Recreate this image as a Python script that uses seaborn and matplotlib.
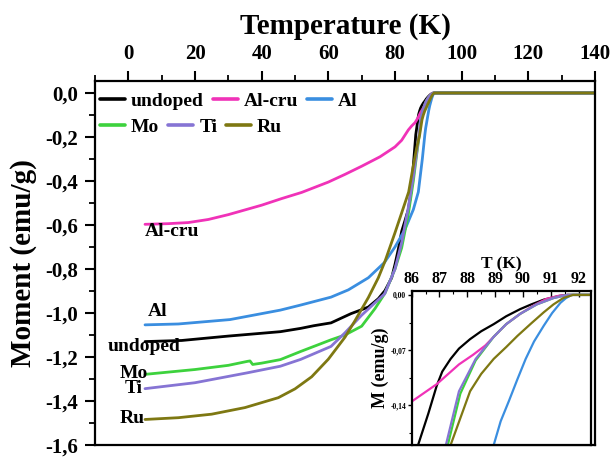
import numpy as np
import pandas as pd
import matplotlib
matplotlib.use("Agg")
import matplotlib.pyplot as plt
from matplotlib.lines import Line2D
from matplotlib.ticker import FixedLocator, FixedFormatter, MultipleLocator
import seaborn as sns

sns.set_theme(style="ticks")
plt.rcParams['font.family'] = ['Liberation Serif', 'DejaVu Serif']
plt.rcParams['font.weight'] = 'bold'
plt.rcParams['axes.labelweight'] = 'bold'
for k in ['text.color', 'axes.labelcolor', 'xtick.color', 'ytick.color', 'axes.edgecolor']:
    plt.rcParams[k] = 'black'

# ---------------- data ----------------
samples = ["undoped", "Al-cru", "Al", "Mo", "Ti", "Ru"]
colors = ["#000000", "#F032B8", "#3A8EE0", "#3DD23D", "#8674D4", "#7E7812"]

T_undoped = [5, 16, 30, 45.6, 51.7, 55.6, 60.8, 66.8, 70, 72, 75, 77, 79, 80, 81, 82, 83, 84,
             84.8, 85.5, 86, 86.23, 86.6, 86.9, 87.1, 87.4, 87.7, 88.1, 88.5, 88.95, 89.4,
             89.9, 90.3, 90.75, 91.1, 91.35, 91.6, 100, 120, 140]
M_undoped = [-1.130, -1.125, -1.105, -1.085, -1.070, -1.058, -1.045, -1.003, -0.985, -0.973,
             -0.935, -0.898, -0.840, -0.779, -0.710, -0.629, -0.580, -0.530, -0.450, -0.330,
             -0.235, -0.190, -0.150, -0.115, -0.097, -0.081, -0.068, -0.056, -0.046, -0.037,
             -0.027, -0.018, -0.012, -0.006, -0.003, -0.001, 0.0, 0.0, 0.0, 0.0]

T_alcru = [5, 12, 18, 24, 30, 40, 46, 52, 60, 65, 70, 75.5, 78, 80, 82, 84, 85, 86, 86.9, 87.7,
           88.2, 88.65, 88.95, 89.4, 89.9, 90.4, 90.85, 91.3, 91.6, 100, 120, 140]
M_alcru = [-0.597, -0.594, -0.589, -0.575, -0.553, -0.510, -0.480, -0.452, -0.405, -0.370,
           -0.333, -0.290, -0.265, -0.245, -0.215, -0.168, -0.150, -0.135, -0.113, -0.088,
           -0.076, -0.064, -0.053, -0.037, -0.024, -0.013, -0.005, -0.001, 0.0, 0.0, 0.0, 0.0]

T_al = [5, 15, 30.5, 45.6, 51.7, 60.8, 66, 72, 76.8, 80, 83, 85.5, 87, 88.2, 88.95, 89.2,
        89.5, 89.8, 90.1, 90.4, 90.75, 91.05, 91.35, 91.55, 91.75, 100, 120, 140]
M_al = [-1.054, -1.050, -1.030, -0.987, -0.964, -0.928, -0.895, -0.840, -0.771, -0.700,
        -0.620, -0.530, -0.450, -0.300, -0.190, -0.160, -0.134, -0.107, -0.081, -0.059,
        -0.039, -0.023, -0.010, -0.004, 0.0, 0.0, 0.0, 0.0]

T_mo = [5, 20, 30, 35.7, 36.5, 37.3, 40, 45.6, 51.7, 60.8, 65, 70, 74, 77, 80, 82, 84, 85.5,
        86.5, 87.3, 87.75, 88.3, 88.95, 89.4, 89.9, 90.5, 91.1, 91.6, 100, 120, 140]
M_mo = [-1.279, -1.257, -1.238, -1.220, -1.218, -1.234, -1.228, -1.212, -1.175, -1.122,
        -1.100, -1.060, -0.980, -0.910, -0.800, -0.704, -0.550, -0.400, -0.280, -0.190,
        -0.125, -0.083, -0.053, -0.037, -0.024, -0.012, -0.004, 0.0, 0.0, 0.0, 0.0]

T_ti = [5, 20, 35.7, 45.6, 51.7, 60.8, 65, 70, 76.9, 80, 82, 84, 85.5, 86.5, 87.23, 87.7,
        88.3, 88.95, 89.4, 89.9, 90.5, 91.1, 91.6, 100, 120, 140]
M_ti = [-1.344, -1.317, -1.272, -1.242, -1.211, -1.152, -1.090, -1.010, -0.913, -0.800,
        -0.680, -0.520, -0.380, -0.270, -0.190, -0.122, -0.081, -0.053, -0.037, -0.024,
        -0.012, -0.004, 0.0, 0.0, 0.0, 0.0]

T_ru = [5, 15, 25, 35, 45, 50, 55, 60, 65, 68, 72, 75, 77, 80, 82, 84.1, 85.5, 86.5,
        87.4, 88.1, 88.5, 88.95, 89.4, 89.8, 90.3, 90.75, 91.1, 91.45, 91.8, 100, 120, 140]
M_ru = [-1.484, -1.476, -1.460, -1.430, -1.385, -1.345, -1.290, -1.210, -1.110, -1.035,
        -0.930, -0.840, -0.765, -0.635, -0.545, -0.450, -0.330, -0.250, -0.190, -0.122,
        -0.100, -0.081, -0.066, -0.052, -0.036, -0.022, -0.012, -0.004, 0.0, 0.0, 0.0, 0.0]

main_xticks = [0, 20, 40, 60, 80, 100, 120, 140]
main_yticks = [0.0, -0.2, -0.4, -0.6, -0.8, -1.0, -1.2, -1.4, -1.6]
main_ylabels = ["0,0", "-0,2", "-0,4", "-0,6", "-0,8", "-1,0", "-1,2", "-1,4", "-1,6"]
inset_xticks = [86, 87, 88, 89, 90, 91, 92]
inset_yticks = [0.0, -0.07, -0.14]
inset_ylabels = ["0,00", "-0,07", "-0,14"]

series_T = [T_undoped, T_alcru, T_al, T_mo, T_ti, T_ru]
series_M = [M_undoped, M_alcru, M_al, M_mo, M_ti, M_ru]

frames = []
for name, t, m in zip(samples, series_T, series_M):
    frames.append(pd.DataFrame({"T": t, "M": m, "sample": name}))
df = pd.concat(frames, ignore_index=True)
palette = dict(zip(samples, colors))

# ---------------- figure ----------------
fig = plt.figure(figsize=(6.11, 4.57), dpi=100)
ax = fig.add_axes([0.1555, 0.0263, 0.8183, 0.7965])

sns.lineplot(data=df, x="T", y="M", hue="sample", palette=palette, hue_order=samples,
             estimator=None, sort=False, linewidth=2.0, legend=False, ax=ax)

ax.set_xlim(-10, 140)
ax.set_ylim(-1.6, 0.0545)
ax.xaxis.tick_top()
ax.xaxis.set_label_position("top")
ax.set_xticks(main_xticks)
ax.xaxis.set_minor_locator(MultipleLocator(10))
ax.yaxis.set_major_locator(FixedLocator(main_yticks))
ax.yaxis.set_major_formatter(FixedFormatter(main_ylabels))
ax.yaxis.set_minor_locator(MultipleLocator(0.1))
ax.tick_params(axis="both", which="major", direction="out", length=7, width=1.5,
               labelsize=15, pad=5, colors="black")
ax.tick_params(axis="both", which="minor", direction="out", length=4, width=1.3)
ax.tick_params(axis="x", which="both", top=True, bottom=False, labeltop=True, labelbottom=False)
ax.tick_params(axis="y", which="both", left=True, right=False)
for lab in ax.get_xticklabels() + ax.get_yticklabels():
    lab.set_fontweight("bold")
for s in ax.spines.values():
    s.set_linewidth(1.6)
    s.set_color("black")
    s.set_visible(True)
ax.set_xlabel("Temperature (K)", fontsize=21, fontweight="bold", labelpad=8)
ax.set_ylabel("Moment (emu/g)", fontsize=21, fontweight="bold", labelpad=6)

# curve labels
lab_kw = dict(fontsize=14, fontweight="bold", va="center", ha="left", color="black")
ax.text(5.0, -0.628, "Al-cru", **lab_kw)
ax.text(5.9, -0.995, "Al", **lab_kw)
ax.text(-6.1, -1.152, "undoped", **lab_kw)
ax.text(-2.5, -1.273, "Mo", **lab_kw)
ax.text(-1.0, -1.345, "Ti", **lab_kw)
ax.text(-2.5, -1.480, "Ru", **lab_kw)

# legends (two rows, each a single-row legend)
handles = [Line2D([0], [0], color=c, lw=2.6) for c in colors]
leg_kw = dict(loc="upper left", ncol=3, frameon=False, borderpad=0, borderaxespad=0,
              handlelength=1.3, handletextpad=0.3, columnspacing=0.45,
              prop={"family": "Liberation Serif", "weight": "bold", "size": 14})
leg1 = ax.legend(handles[:3], samples[:3], bbox_to_anchor=(0.01, 0.968), **leg_kw)
ax.add_artist(leg1)
leg2 = ax.legend(handles[3:], samples[3:], bbox_to_anchor=(0.01, 0.898), **leg_kw)

# ---------------- inset ----------------
axi = fig.add_axes([0.6738, 0.0263, 0.2935, 0.337])
sns.lineplot(data=df, x="T", y="M", hue="sample", palette=palette, hue_order=samples,
             estimator=None, sort=False, linewidth=1.6, legend=False, ax=axi)
axi.set_xlim(86, 92.45)
axi.set_ylim(-0.19, 0.005)
axi.xaxis.tick_top()
axi.xaxis.set_label_position("top")
axi.set_xticks(inset_xticks)
axi.xaxis.set_minor_locator(MultipleLocator(0.5))
axi.yaxis.set_major_locator(FixedLocator(inset_yticks))
axi.yaxis.set_major_formatter(FixedFormatter(inset_ylabels))
axi.yaxis.set_minor_locator(FixedLocator([-0.035, -0.105, -0.175]))
axi.tick_params(axis="x", which="major", direction="in", length=4, width=1.0,
                labelsize=11.5, pad=3, top=True, bottom=False, labeltop=True, labelbottom=False)
axi.tick_params(axis="x", which="minor", direction="in", length=2, width=0.8,
                top=True, bottom=False)
axi.tick_params(axis="y", which="major", direction="out", length=3, width=1.0,
                labelsize=5.5, pad=1, left=True, right=False)
axi.tick_params(axis="y", which="minor", direction="out", length=2, width=0.8,
                left=True, right=False)
for lab in axi.get_xticklabels() + axi.get_yticklabels():
    lab.set_fontweight("bold")
for s in axi.spines.values():
    s.set_linewidth(1.6)
    s.set_color("black")
    s.set_visible(True)
axi.set_xlabel("T (K)", fontsize=12.5, fontweight="bold", labelpad=2)
axi.set_ylabel("M (emu/g)", fontsize=13, fontweight="bold", labelpad=1)
axi.set_facecolor("white")

fig.savefig("out.png", dpi=100)
